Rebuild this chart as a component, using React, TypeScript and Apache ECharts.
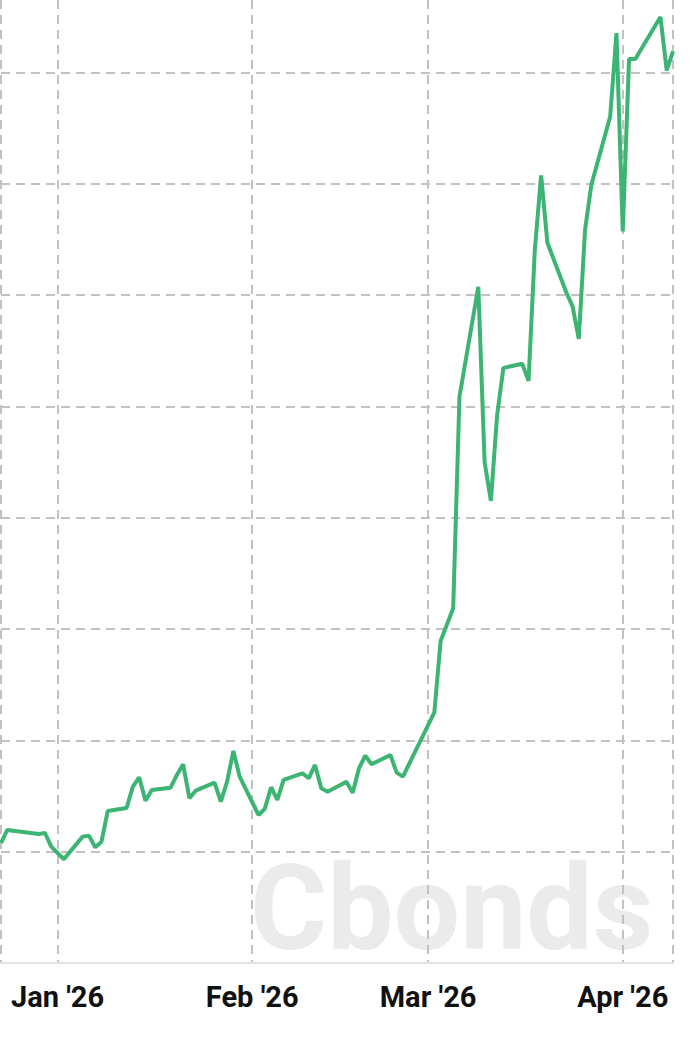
import React, { useEffect, useRef } from "react";
import * as echarts from "echarts";

const dates: string[] = [
  "2025-12-23", "2025-12-24", "2025-12-29", "2025-12-30", "2025-12-31",
  "2026-01-02", "2026-01-05", "2026-01-06", "2026-01-07", "2026-01-08", "2026-01-09",
  "2026-01-12", "2026-01-13", "2026-01-14", "2026-01-15", "2026-01-16",
  "2026-01-19", "2026-01-20", "2026-01-21", "2026-01-22", "2026-01-23",
  "2026-01-26", "2026-01-27", "2026-01-28", "2026-01-29", "2026-01-30",
  "2026-02-02", "2026-02-03", "2026-02-04", "2026-02-05", "2026-02-06",
  "2026-02-09", "2026-02-10", "2026-02-11", "2026-02-12", "2026-02-13",
  "2026-02-16", "2026-02-17", "2026-02-18", "2026-02-19", "2026-02-20",
  "2026-02-23", "2026-02-24", "2026-02-25",
  "2026-03-02", "2026-03-03", "2026-03-05", "2026-03-06",
  "2026-03-09", "2026-03-10", "2026-03-11", "2026-03-12", "2026-03-13",
  "2026-03-16", "2026-03-17", "2026-03-18", "2026-03-19", "2026-03-20",
  "2026-03-23", "2026-03-24", "2026-03-25", "2026-03-26", "2026-03-27",
  "2026-03-30", "2026-03-31",
  "2026-04-01", "2026-04-02", "2026-04-03", "2026-04-07", "2026-04-08", "2026-04-09",
];

const values: number[] = [
  1.078, 1.195, 1.159, 1.168, 1.045,
  0.932, 1.135, 1.144, 1.04, 1.09, 1.366,
  1.393, 1.584, 1.668, 1.458, 1.554,
  1.575, 1.689, 1.785, 1.48, 1.548,
  1.62, 1.449, 1.629, 1.905, 1.674,
  1.33, 1.384, 1.579, 1.465, 1.644,
  1.704, 1.659, 1.779, 1.57, 1.539,
  1.629, 1.53, 1.749, 1.863, 1.785,
  1.869, 1.71, 1.674,
  2.252, 2.893, 3.187, 5.088,
  6.074, 4.501, 4.151, 4.924, 5.346,
  5.382, 5.229, 6.406, 7.075, 6.469,
  6.025, 5.898, 5.606, 6.588, 6.99,
  7.604, 8.353,
  6.571, 8.12, 8.12, 8.497, 8.017, 8.188,
];

const monthNames: string[] = ["Jan", "Feb", "Mar", "Apr", "May", "Jun", "Jul", "Aug", "Sep", "Oct", "Nov", "Dec"];
const xMin = "2025-12-23";
const xMax = "2026-04-09";
const yMin = 0;
const yMax = 8.65;
const yStep = 1;
const watermark = "Cbonds";

function toTime(s: string): number {
  const [y, m, d] = s.split("-").map(Number);
  return new Date(y, m - 1, d).getTime();
}

export default function App() {
  const ref = useRef<HTMLDivElement>(null);
  useEffect(() => {
    document.body.style.margin = "0";
    if (!ref.current) return;
    const chart = echarts.init(ref.current, undefined, { renderer: "svg" });
    const data = dates.map((d, i) => [toTime(d), values[i]]);
    chart.setOption({
      animation: false,
      backgroundColor: "#ffffff",
      grid: { left: 1, right: 17, top: 0, bottom: 77, containLabel: false },
      graphic: {
        elements: [
          {
            type: "text",
            left: 250,
            top: 850,
            z: -10,
            silent: true,
            style: {
              text: watermark,
              fill: "#ebebeb",
              font: "bold 118px Roboto, sans-serif",
            },
          },
        ],
      },
      xAxis: {
        type: "time",
        min: toTime(xMin),
        max: toTime(xMax),
        minInterval: 28 * 86400000,
        maxInterval: 31 * 86400000,
        axisLine: { show: true, lineStyle: { color: "#e3e3e3", width: 2 } },
        axisTick: { show: false },
        splitLine: {
          show: true,
          lineStyle: { color: "#c2c2c2", type: [9, 6], width: 2 },
        },
        axisLabel: {
          margin: 19,
          fontFamily: "Roboto, sans-serif",
          fontWeight: "bold",
          fontSize: 29,
          color: "#111111",
          formatter: (v: number) => {
            const dt = new Date(v);
            return monthNames[dt.getMonth()] + " '" + String(dt.getFullYear()).slice(2);
          },
        },
      },
      yAxis: {
        type: "value",
        min: yMin,
        max: yMax,
        interval: yStep,
        axisLine: { show: false },
        axisTick: { show: false },
        axisLabel: { show: false },
        splitLine: {
          show: true,
          showMinLine: false,
          showMaxLine: false,
          lineStyle: { color: "#c2c2c2", type: [9, 6], width: 2 },
        },
      },
      series: [
        {
          type: "line",
          data,
          showSymbol: false,
          symbol: "none",
          lineStyle: { color: "#3cb473", width: 4 },
          z: 5,
        },
      ],
    });
    return () => chart.dispose();
  }, []);
  return <div ref={ref} style={{ width: 690, height: 1040 }} />;
}
